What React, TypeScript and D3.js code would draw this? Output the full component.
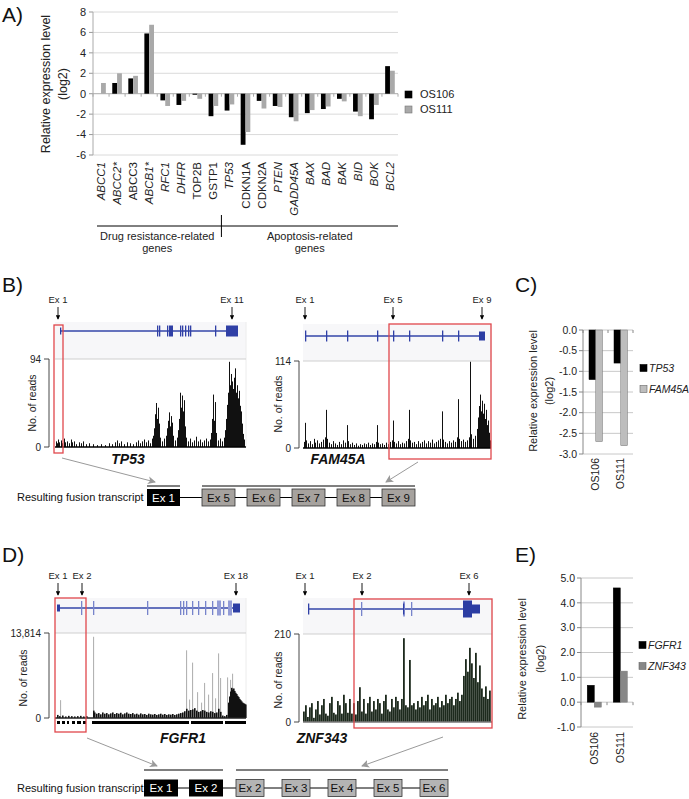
import React from "react";
import * as d3 from "d3";

const FONT = "'Liberation Sans', Arial, Helvetica, sans-serif";

// ---------------- Panel A data ----------------
const GENES_A = ["ABCC1", "ABCC2*", "ABCC3", "ABCB1*", "RFC1", "DHFR", "TOP2B", "GSTP1", "TP53", "CDKN1A", "CDKN2A", "PTEN", "GADD45A", "BAX", "BAD", "BAK", "BID", "BOK", "BCL2"];
const ITALIC_A = [true, true, false, true, true, true, false, false, true, false, false, true, true, true, true, true, true, true, true];
const SERIES_A = ["OS106", "OS111"];
const OS106_A = [0, 1.05, 1.5, 5.9, -0.65, -1.1, -0.1, -2.2, -1.65, -5.0, -0.7, -1.2, -2.3, -1.9, -1.5, -0.5, -1.75, -2.5, 2.7];
const OS111_A = [1.05, 2.0, 1.75, 6.75, -1.2, -0.7, -0.5, -1.2, -1.05, -3.75, -1.45, -1.3, -2.7, -1.6, -1.25, -0.75, -2.2, -1.1, 2.25];
const TICKS_A = [8, 6, 4, 2, 0, -2, -4, -6];
const GROUPS_A = [
  { lines: ["Drug resistance-related", "genes"], from: "ABCC1", to: "GSTP1" },
  { lines: ["Apoptosis-related", "genes"], from: "TP53", to: "BCL2" },
];

// ---------------- Panel C data ----------------
const CATS_C = ["OS106", "OS111"];
const TP53_C = [-1.2, -0.8];
const FAM45A_C = [-2.7, -2.8];
const TICKS_C = [0, -0.5, -1, -1.5, -2, -2.5, -3];

// ---------------- Panel E data ----------------
const CATS_E = ["OS106", "OS111"];
const FGFR1_E = [0.68, 4.6];
const ZNF343_E = [-0.2, 1.25];
const TICKS_E = [5, 4, 3, 2, 1, 0, -1];

// ---------------- Tracks ----------------
const TP53_EXONS: [number, number, string][] = [
  [5, 6, "utr"], [102, 103, "cds"], [104, 105, "cds"], [112, 113, "cds"], [114, 118, "cds"],
  [125, 126, "cds"], [127, 128, "cds"], [130, 131, "cds"], [133, 134, "cds"], [135, 136, "cds"],
  [160, 161, "cds"], [171, 183, "cds"],
];
const TP53_EX_LABELS: [string, number][] = [["Ex 1", 3], ["Ex 11", 177]];
const TP53_COV: [number, number][] = [
  [1, 6], [2, 4], [3, 8], [4, 5], [6, 7], [7, 4], [9, 9], [10, 5], [12, 6], [14, 4], [16, 8], [17, 5], [19, 6], [21, 3], [24, 5], [26, 4], [28, 6], [31, 3], [34, 4], [38, 3], [42, 2], [46, 3], [50, 2], [54, 4], [57, 3], [60, 5], [62, 7], [64, 4], [66, 6], [69, 3], [72, 5], [75, 4], [78, 3], [81, 5], [83, 7], [85, 4], [87, 6], [89, 8], [91, 5], [93, 7], [95, 4], [97, 9], [98, 12],
  [99, 20], [100, 35], [101, 47], [102, 30], [103, 42], [104, 25], [105, 10], [107, 6], [109, 9], [111, 12], [112, 20], [113, 28], [114, 37], [115, 22], [116, 33], [117, 26], [118, 12], [120, 7], [122, 10], [123, 18], [124, 30], [125, 58], [126, 42], [127, 55], [128, 38], [129, 50], [130, 22], [131, 10], [133, 6], [135, 9], [137, 5], [139, 7], [141, 11], [143, 6], [145, 8], [147, 5], [149, 7], [151, 9], [153, 6], [155, 8], [156, 15], [157, 30], [158, 56], [159, 28], [160, 48], [161, 15], [163, 7], [165, 9], [167, 6], [169, 10], [170, 18],
  [171, 30], [172, 45], [173, 58], [174, 91], [175, 66], [176, 78], [177, 70], [178, 62], [179, 74], [180, 84], [181, 58], [182, 66], [183, 52], [184, 60], [185, 44], [186, 38], [187, 25], [188, 14], [189, 8],
];

const FAM45A_EXONS: [number, number, string][] = [
  [2, 3, "cds"], [23, 24, "cds"], [44, 45, "cds"], [74, 75, "cds"], [90, 91, "cds"], [106, 107, "cds"], [139, 140, "cds"], [155, 156, "cds"], [176, 182, "box"],
];
const FAM45A_EX_LABELS: [string, number][] = [["Ex 1", 2], ["Ex 5", 90], ["Ex 9", 179]];
const FAM45A_COV: [number, number][] = [
  [1, 8], [2, 33], [3, 10], [5, 6], [7, 9], [9, 5], [11, 12], [12, 7], [14, 10], [16, 6], [18, 8], [20, 11], [22, 14], [23, 50], [24, 12], [26, 7], [28, 5], [30, 9], [32, 6], [34, 4], [36, 8], [38, 5], [40, 10], [42, 7], [44, 30], [45, 9], [47, 5], [49, 7], [51, 4], [53, 6], [55, 3], [57, 5], [59, 4], [61, 6], [63, 5], [65, 7], [67, 4], [69, 6], [71, 5], [73, 8], [74, 30], [75, 7], [77, 5], [79, 6], [81, 4], [83, 7], [85, 5], [87, 8], [89, 10], [90, 36], [91, 8], [93, 6], [95, 9], [97, 5], [99, 7], [101, 6], [103, 9], [105, 12], [106, 50], [107, 10], [109, 7], [111, 8], [113, 5], [115, 9], [117, 6], [119, 8], [121, 10], [123, 6], [125, 9], [127, 7], [129, 11], [131, 6], [133, 8], [135, 10], [137, 12], [139, 48], [140, 11], [142, 8], [144, 6], [146, 9], [148, 7], [150, 10], [152, 8], [154, 14], [155, 64], [156, 12], [158, 9], [160, 11], [162, 8], [164, 10], [166, 14], [167, 113], [168, 18], [170, 12], [172, 16], [174, 25], [175, 40], [176, 55], [177, 70], [178, 48], [179, 62], [180, 45], [181, 58], [182, 38], [183, 50], [184, 30], [185, 36], [186, 20], [187, 10],
];

const FGFR1_EXONS: [number, number, string][] = [
  [2, 5, "utr"], [26, 27, "tick"], [38, 39, "tick"], [92, 93, "tick"], [125, 126, "tick"], [128, 129, "tick"], [131, 132, "tick"], [137, 138, "tick"], [143, 144, "tick"], [150, 151, "tick"], [157, 158, "tick"], [162, 166, "lbox"], [168, 169, "tick"], [173, 177, "lbox"], [178, 185, "box"],
];
const FGFR1_EX_LABELS: [string, number][] = [["Ex 1", 3], ["Ex 2", 27], ["Ex 18", 181]];
const FGFR1_GRAY: [number, number][] = [
  [5, 2900], [38, 13200], [131, 11000], [134, 3000], [137, 9000], [142, 4200], [146, 2500], [149, 5700], [153, 3800], [157, 7300], [160, 3200], [163, 10500], [165, 6500], [172, 6600], [175, 6200], [177, 7200],
];
const FGFR1_BLACK: [number, number][] = [
  [2, 500], [4, 300], [7, 400], [10, 250], [13, 350], [16, 300], [19, 250], [22, 300], [25, 350], [28, 250], [31, 300], [38, 1200], [39, 900], [41, 700], [43, 800], [45, 600], [47, 900], [49, 700], [51, 800], [53, 600], [55, 750], [57, 900], [59, 650], [61, 800], [63, 700], [65, 850], [67, 600], [69, 750], [71, 900], [73, 700], [75, 650], [77, 800], [79, 600], [81, 700], [83, 550], [85, 750], [87, 600], [89, 650], [91, 500], [93, 700], [95, 600], [97, 550], [99, 650], [101, 500], [103, 600], [105, 700], [107, 550], [109, 650], [111, 500], [113, 600], [115, 550], [117, 650], [119, 500], [121, 600], [123, 700], [125, 800], [127, 900], [129, 1100], [131, 1500], [133, 1200], [135, 1300], [137, 1400], [139, 1600], [141, 1200], [143, 1000], [145, 1100], [147, 1300], [149, 1200], [151, 1000], [153, 900], [155, 1100], [157, 1000], [159, 800], [161, 900], [163, 1500], [165, 1000], [167, 400], [169, 300], [171, 500], [173, 2500], [174, 3500], [175, 4300], [176, 4900], [177, 4600], [178, 4800], [179, 4400], [180, 4100], [181, 3900], [182, 3600], [183, 3400], [184, 3100], [185, 2900], [186, 2700], [187, 2500], [188, 2400], [189, 2300], [190, 2200],
];
const FGFR1_STRIP: [number, number][] = [[2, 5], [7, 10], [12, 14], [17, 20], [22, 26], [28, 31], [37, 134], [136, 168], [170, 191]];

const ZNF343_EXONS: [number, number, string][] = [
  [5, 6, "cds"], [58, 59, "tick"], [100, 102, "lbox"], [100, 101, "cds"], [108, 109, "tick"], [160, 169, "big"], [169, 177, "box"],
];
const ZNF343_EX_LABELS: [string, number][] = [["Ex 1", 2], ["Ex 2", 59], ["Ex 6", 166]];
const ZNF343_BINS = [
  25, 40, 12, 35, 45, 10, 30, 50, 18, 40, 55, 20, 15, 45, 60, 22, 18, 50, 40, 20, 65, 45, 22, 55,
  20, 45, 18, 50, 83, 25, 55, 20, 45, 60, 25, 50, 30, 55, 45, 20, 50, 65, 30, 25, 55, 35, 60, 50, 30, 55,
  200, 40, 35, 148, 40,
  45, 30, 50, 35, 60, 40, 50, 65, 30, 55, 40, 45, 60, 35, 50, 40, 65, 45, 55, 60, 40, 55, 70, 50, 65,
  110, 150, 120, 177, 140, 105, 165, 95, 135,
  80, 60, 85, 55, 75,
];

// ---------------- Fusion rows ----------------
const B_FUSION_LEFT = ["Ex 1"];
const B_FUSION_RIGHT = ["Ex 5", "Ex 6", "Ex 7", "Ex 8", "Ex 9"];
const D_FUSION_LEFT = ["Ex 1", "Ex 2"];
const D_FUSION_RIGHT = ["Ex 2", "Ex 3", "Ex 4", "Ex 5", "Ex 6"];

const EXON_STYLE: Record<string, { h: number; c: string }> = {
  utr: { h: 3.5, c: "#2c3da3" },
  cds: { h: 5.5, c: "#3040a6" },
  box: { h: 4.5, c: "#2c3da3" },
  big: { h: 8.5, c: "#2c3da3" },
  tick: { h: 7, c: "#7784cb" },
  lbox: { h: 7.5, c: "#929bd6" },
};

type TrackCfg = {
  x0: number; geneY: number; bgTop: number; gridY: number; baseY: number; max: number; maxLabel: string;
  axisX: number; readsX: number; readsY: number; line: [number, number]; exons: [number, number, string][];
  exLabels: [string, number][]; exY: number; cov: [number, number][]; covColor: string; covW: number;
  gray?: [number, number][]; strip?: [number, number][]; name: string; nameX: number; nameY: number;
  red: [number, number, number, number]; baseColor: string; span: number;
};

function Track({ c }: { c: TrackCfg }) {
  const xs = d3.scaleLinear().domain([0, c.span]).range([c.x0, c.x0 + c.span]);
  const ys = d3.scaleLinear().domain([0, c.max]).range([c.baseY, c.gridY]);
  return (
    <g>
      <rect x={xs(0)} y={c.bgTop} width={xs(c.span) - xs(0)} height={c.gridY - c.bgTop} fill="#f7f7f9" />
      <line x1={xs(c.span)} x2={xs(c.span)} y1={c.bgTop} y2={c.baseY} stroke="#ececec" />
      {c.exLabels.map(([t, p], i) => (
        <g key={i}>
          <text x={xs(p)} y={c.exY} fontSize={9.5} textAnchor="middle" fill="#222">{t}</text>
          <line x1={xs(p)} x2={xs(p)} y1={c.exY + 4} y2={c.exY + 16} stroke="#000" strokeWidth={0.9} markerEnd="url(#arrK)" />
        </g>
      ))}
      <line x1={xs(c.line[0])} x2={xs(c.line[1])} y1={c.geneY} y2={c.geneY} stroke="#3446a8" strokeWidth={1.3} />
      {c.exons.map(([a, b, t], i) => {
        const st = EXON_STYLE[t];
        return <rect key={i} x={xs(a)} y={c.geneY - st.h} width={Math.max(1.3, xs(b) - xs(a))} height={st.h * 2} fill={st.c} />;
      })}
      <line x1={xs(0)} x2={xs(c.span)} y1={c.gridY} y2={c.gridY} stroke="#cfcfcf" strokeWidth={1} />
      {c.gray && c.gray.map(([p, v], i) => (
        <rect key={"g" + i} x={xs(p)} y={ys(v)} width={1.1} height={c.baseY - ys(v)} fill="#b3b3b3" />
      ))}
      {c.cov.map(([p, v], i) => (
        <rect key={"c" + i} x={xs(p)} y={ys(v)} width={c.covW} height={c.baseY - ys(v)} fill={c.covColor} />
      ))}
      <line x1={xs(0)} x2={xs(c.span)} y1={c.baseY} y2={c.baseY} stroke={c.baseColor} strokeWidth={1.4} />
      {c.strip && c.strip.map(([a, b], i) => (
        <rect key={"s" + i} x={xs(a)} y={c.baseY + 3} width={xs(b) - xs(a)} height={3} fill="#000" />
      ))}
      <line x1={c.axisX} x2={c.axisX} y1={c.gridY} y2={c.baseY} stroke="#333" strokeWidth={0.9} />
      <line x1={c.axisX - 5} x2={c.axisX} y1={c.gridY} y2={c.gridY} stroke="#333" strokeWidth={0.9} />
      <line x1={c.axisX - 5} x2={c.axisX} y1={c.baseY} y2={c.baseY} stroke="#333" strokeWidth={0.9} />
      <text x={c.axisX - 8} y={c.gridY} dy="0.35em" fontSize={10} textAnchor="end" fill="#222">{c.maxLabel}</text>
      <text x={c.axisX - 8} y={c.baseY} dy="0.35em" fontSize={10} textAnchor="end" fill="#222">0</text>
      <text transform={`translate(${c.readsX},${c.readsY}) rotate(-90)`} fontSize={10.5} textAnchor="middle" dy="0.35em" fill="#222">No. of reads</text>
      <text x={c.nameX} y={c.nameY} fontSize={14} fontWeight="bold" fontStyle="italic" textAnchor="middle" fill="#111">{c.name}</text>
      <rect x={xs(c.red[0])} y={c.red[2]} width={xs(c.red[1]) - xs(c.red[0])} height={c.red[3] - c.red[2]} fill="none" stroke="#e0474c" strokeWidth={1.3} />
    </g>
  );
}

function FusionRow({ y, lineY, left, right, leftRange, rightRange, leftPad, rightPad, grayFill }: any) {
  const xl = d3.scaleBand<string>().domain(left.map((d: string, i: number) => d + "_L" + i)).range(leftRange).paddingInner(leftPad);
  const xr = d3.scaleBand<string>().domain(right.map((d: string, i: number) => d + "_R" + i)).range(rightRange).paddingInner(rightPad);
  const h = 17;
  return (
    <g>
      <line x1={leftRange[0]} x2={leftRange[1]} y1={lineY} y2={lineY} stroke="#000" strokeWidth={1} />
      <line x1={rightRange[0]} x2={rightRange[1]} y1={lineY} y2={lineY} stroke="#000" strokeWidth={1} />
      <text x={17} y={y} dy="0.35em" fontSize={11} fill="#111">Resulting fusion transcript</text>
      <line x1={leftRange[0]} x2={rightRange[1]} y1={y} y2={y} stroke="#000" strokeWidth={1} />
      {left.map((d: string, i: number) => {
        const x = xl(d + "_L" + i)!;
        return (
          <g key={"l" + i}>
            <rect x={x} y={y - h / 2} width={xl.bandwidth()} height={h} fill="#000" />
            <text x={x + xl.bandwidth() / 2} y={y} dy="0.36em" fontSize={11.5} textAnchor="middle" fill="#fff">{d}</text>
          </g>
        );
      })}
      {right.map((d: string, i: number) => {
        const x = xr(d + "_R" + i)!;
        return (
          <g key={"r" + i}>
            <rect x={x} y={y - h / 2} width={xr.bandwidth()} height={h} fill={grayFill} stroke="#333" strokeWidth={0.8} />
            <text x={x + xr.bandwidth() / 2} y={y} dy="0.36em" fontSize={11.5} textAnchor="middle" fill="#111">{d}</text>
          </g>
        );
      })}
    </g>
  );
}

function SmallBars({ cats, a, b, ticks, domain, xRange, yRange, colors, names, fmt, legendX, legendY, labelX, labelY, catLabelY }: any) {
  const x = d3.scaleBand<string>().domain(cats).range(xRange);
  const y = d3.scaleLinear().domain(domain).range(yRange);
  const bw = x.bandwidth();
  const s = d3.scaleBand<string>().domain(names).range([bw * 0.24, bw * 0.78]);
  const vals = [a, b];
  const top = Math.min(yRange[0], yRange[1]);
  const bottom = Math.max(yRange[0], yRange[1]);
  return (
    <g>
      {ticks.map((t: number) => (
        <g key={t}>
          <line x1={xRange[0]} x2={xRange[1]} y1={y(t)} y2={y(t)} stroke="#c8c8c8" />
          <line x1={xRange[0] - 4} x2={xRange[0]} y1={y(t)} y2={y(t)} stroke="#888" />
          <text x={xRange[0] - 6} y={y(t)} dy="0.35em" fontSize={10.5} textAnchor="end" fill="#222">{fmt(t)}</text>
        </g>
      ))}
      <line x1={xRange[0]} x2={xRange[0]} y1={top} y2={bottom} stroke="#888" />
      {cats.map((c: string, i: number) =>
        vals.map((v: number[], j: number) => {
          const val = v[i];
          return (
            <rect key={c + j} x={x(c)! + s(names[j])!} y={y(Math.max(0, val))} width={s.bandwidth()} height={Math.abs(y(val) - y(0))}
              fill={colors[j]} stroke={j === 0 ? "#000" : "#777"} strokeWidth={0.5} />
          );
        })
      )}
      {[...cats.map((c: string) => x(c)!), xRange[1]].map((p: number, i: number) => (
        <line key={"tk" + i} x1={p} x2={p} y1={y(0)} y2={y(0) + 3} stroke="#888" />
      ))}
      {cats.map((c: string) => (
        <text key={"cl" + c} transform={`translate(${x(c)! + bw / 2},${catLabelY}) rotate(-90)`} dy="0.35em" textAnchor="end" fontSize={10.5} fill="#222">{c}</text>
      ))}
      {names.map((n: string, j: number) => (
        <g key={n}>
          <rect x={legendX} y={legendY[j] - 3.5} width={7} height={7} fill={colors[j]} stroke={j === 0 ? "#000" : "#666"} strokeWidth={0.6} />
          <text x={legendX + 9} y={legendY[j]} dy="0.35em" fontSize={10.5} fontStyle="italic" fill="#222">{n}</text>
        </g>
      ))}
      <text transform={`translate(${labelX[0]},${labelY}) rotate(-90)`} dy="0.35em" textAnchor="middle" fontSize={11} fill="#222">Relative expression level</text>
      <text transform={`translate(${labelX[1]},${labelY}) rotate(-90)`} dy="0.35em" textAnchor="middle" fontSize={11} fill="#222">(log2)</text>
    </g>
  );
}

export default function App() {
  const xA = d3.scaleBand<string>().domain(GENES_A).range([93, 398]);
  const yA = d3.scaleLinear().domain([-6, 8]).range([155, 12]);
  const bwA = xA.bandwidth();
  const sA = d3.scaleBand<string>().domain(SERIES_A).range([bwA * 0.2, bwA * 0.8]);
  const valsA = [OS106_A, OS111_A];
  const colA = ["#000", "#a9a9a9"];

  const tp53: TrackCfg = {
    x0: 55, span: 191, geneY: 331, bgTop: 322, gridY: 359, baseY: 447, max: 94, maxLabel: "94", axisX: 49,
    readsX: 32, readsY: 403, line: [5, 183], exons: TP53_EXONS, exLabels: TP53_EX_LABELS, exY: 303,
    cov: TP53_COV, covColor: "#111", covW: 1, name: "TP53", nameX: 128, nameY: 464, red: [-1, 8, 325, 453], baseColor: "#000",
  };
  const fam: TrackCfg = {
    x0: 303, span: 188, geneY: 336, bgTop: 324, gridY: 361, baseY: 448, max: 114, maxLabel: "114", axisX: 299,
    readsX: 278, readsY: 404, line: [2, 180], exons: FAM45A_EXONS, exLabels: FAM45A_EX_LABELS, exY: 303,
    cov: FAM45A_COV, covColor: "#111", covW: 1, name: "FAM45A", nameX: 338, nameY: 464, red: [86, 188, 324, 459], baseColor: "#000",
  };
  const fgfr: TrackCfg = {
    x0: 55, span: 191, geneY: 608, bgTop: 598, gridY: 633, baseY: 718, max: 13814, maxLabel: "13,814", axisX: 49,
    readsX: 23, readsY: 678, line: [3, 183], exons: FGFR1_EXONS, exLabels: FGFR1_EX_LABELS, exY: 579,
    cov: FGFR1_BLACK, covColor: "#111", covW: 1.6, gray: FGFR1_GRAY, strip: FGFR1_STRIP,
    name: "FGFR1", nameX: 183, nameY: 743, red: [0, 31, 598, 732], baseColor: "#222",
  };
  const znf: TrackCfg = {
    x0: 303, span: 189, geneY: 609, bgTop: 598, gridY: 634, baseY: 722, max: 210, maxLabel: "210", axisX: 299,
    readsX: 278, readsY: 680, line: [5, 177], exons: ZNF343_EXONS, exLabels: ZNF343_EX_LABELS, exY: 579,
    cov: ZNF343_BINS.map((v, i) => [i * 2, v] as [number, number]), covColor: "#1d2a1d", covW: 1.8,
    name: "ZNF343", nameX: 322, nameY: 743, red: [51, 189, 599, 728], baseColor: "#777",
  };

  return (
    <svg width={689} height={799} style={{ position: "absolute", left: 0, top: 0, background: "#fff" }} fontFamily={FONT}>
      <defs>
        <marker id="arrK" viewBox="0 0 6 6" refX="5" refY="3" markerWidth="5" markerHeight="5" orient="auto">
          <path d="M0,0 L6,3 L0,6 z" fill="#000" />
        </marker>
        <marker id="arrG" viewBox="0 0 8 8" refX="7" refY="4" markerWidth="8" markerHeight="8" markerUnits="userSpaceOnUse" orient="auto">
          <path d="M0,0 L8,4 L0,8 L2,4 z" fill="#9a9a9a" />
        </marker>
      </defs>
      <rect width={689} height={799} fill="#fff" />

      {/* Panel A */}
      <text x={2} y={22} fontSize={21} fill="#111">A)</text>
      {TICKS_A.map((t) => (
        <g key={t}>
          <line x1={93} x2={398} y1={yA(t)} y2={yA(t)} stroke={t === 0 ? "#aaa" : "#dadada"} />
          <line x1={89} x2={93} y1={yA(t)} y2={yA(t)} stroke="#999" />
          <text x={86} y={yA(t)} dy="0.35em" fontSize={11} textAnchor="end" fill="#222">{t}</text>
        </g>
      ))}
      <line x1={93} x2={93} y1={yA(8)} y2={yA(-6)} stroke="#aaa" />
      {GENES_A.map((g, i) =>
        valsA.map((v, j) => (
          <rect key={g + j} x={xA(g)! + sA(SERIES_A[j])!} y={yA(Math.max(0, v[i]))} width={sA.bandwidth()}
            height={Math.abs(yA(v[i]) - yA(0))} fill={colA[j]} />
        ))
      )}
      {[...GENES_A.map((g) => xA(g)!), 398].map((p, i) => (
        <line key={"at" + i} x1={p} x2={p} y1={yA(0)} y2={yA(0) + 3} stroke="#aaa" />
      ))}
      {GENES_A.map((g, i) => (
        <text key={"gl" + g} transform={`translate(${xA(g)! + bwA / 2},162) rotate(-90)`} dy="0.35em" textAnchor="end"
          fontSize={11.5} fontStyle={ITALIC_A[i] ? "italic" : "normal"} fill="#222">{g}</text>
      ))}
      <line x1={97} x2={398} y1={226} y2={226} stroke="#000" />
      <line x1={xA("TP53")!} x2={xA("TP53")!} y1={215} y2={237} stroke="#000" />
      {GROUPS_A.map((gr) => {
        const cx = (xA(gr.from)! + xA(gr.to)! + bwA) / 2;
        return (
          <g key={gr.lines[0]}>
            {gr.lines.map((l, k) => (
              <text key={k} x={cx} y={240 + k * 12} fontSize={11} textAnchor="middle" fill="#222">{l}</text>
            ))}
          </g>
        );
      })}
      {SERIES_A.map((s, j) => (
        <g key={s}>
          <rect x={405} y={91 + j * 15} width={7} height={7} fill={colA[j]} stroke={j ? "#777" : "#000"} strokeWidth={0.6} />
          <text x={420} y={94.5 + j * 15} dy="0.35em" fontSize={11} fill="#222">{s}</text>
        </g>
      ))}
      <text transform="translate(46,84) rotate(-90)" dy="0.35em" textAnchor="middle" fontSize={12.5} fill="#222">Relative expression level</text>
      <text transform="translate(63,84) rotate(-90)" dy="0.35em" textAnchor="middle" fontSize={12.5} fill="#222">(log2)</text>

      {/* Panel B */}
      <text x={2} y={292} fontSize={21} fill="#111">B)</text>
      <Track c={tp53} />
      <Track c={fam} />
      <line x1={62} y1={458} x2={155} y2={482} stroke="#9a9a9a" strokeWidth={1} markerEnd="url(#arrG)" />
      <line x1={418} y1={462} x2={386} y2={482} stroke="#9a9a9a" strokeWidth={1} markerEnd="url(#arrG)" />
      <FusionRow y={497.5} lineY={486} left={B_FUSION_LEFT} right={B_FUSION_RIGHT} leftRange={[147, 180]} rightRange={[202, 415]}
        leftPad={0} rightPad={12 / 45} grayFill="#a6a29e" />

      {/* Panel C */}
      <text x={515} y={292} fontSize={21} fill="#111">C)</text>
      <SmallBars cats={CATS_C} a={TP53_C} b={FAM45A_C} ticks={TICKS_C} domain={[-3, 0]} xRange={[583, 633]} yRange={[454, 330]}
        colors={["#000", "#bdbdbd"]} names={["TP53", "FAM45A"]} fmt={(t: number) => t.toFixed(1)} legendX={640} legendY={[368, 389]}
        labelX={[533, 549]} labelY={391} catLabelY={458} />

      {/* Panel D */}
      <text x={2} y={562} fontSize={21} fill="#111">D)</text>
      <Track c={fgfr} />
      <Track c={znf} />
      <line x1={87} y1={738} x2={157} y2={766} stroke="#9a9a9a" strokeWidth={1} markerEnd="url(#arrG)" />
      <line x1={443} y1={737} x2={362} y2={766} stroke="#9a9a9a" strokeWidth={1} markerEnd="url(#arrG)" />
      <FusionRow y={788} lineY={770} left={D_FUSION_LEFT} right={D_FUSION_RIGHT} leftRange={[144, 223]} rightRange={[236, 448]}
        leftPad={11 / 45} rightPad={18 / 46} grayFill="#b4b4b4" />

      {/* Panel E */}
      <text x={515} y={562} fontSize={21} fill="#111">E)</text>
      <SmallBars cats={CATS_E} a={FGFR1_E} b={ZNF343_E} ticks={TICKS_E} domain={[-1, 5]} xRange={[581, 633]} yRange={[727, 578]}
        colors={["#000", "#878787"]} names={["FGFR1", "ZNF343"]} fmt={(t: number) => t.toFixed(1)} legendX={639} legendY={[645, 666]}
        labelX={[522, 540]} labelY={659} catLabelY={732} />
    </svg>
  );
}
